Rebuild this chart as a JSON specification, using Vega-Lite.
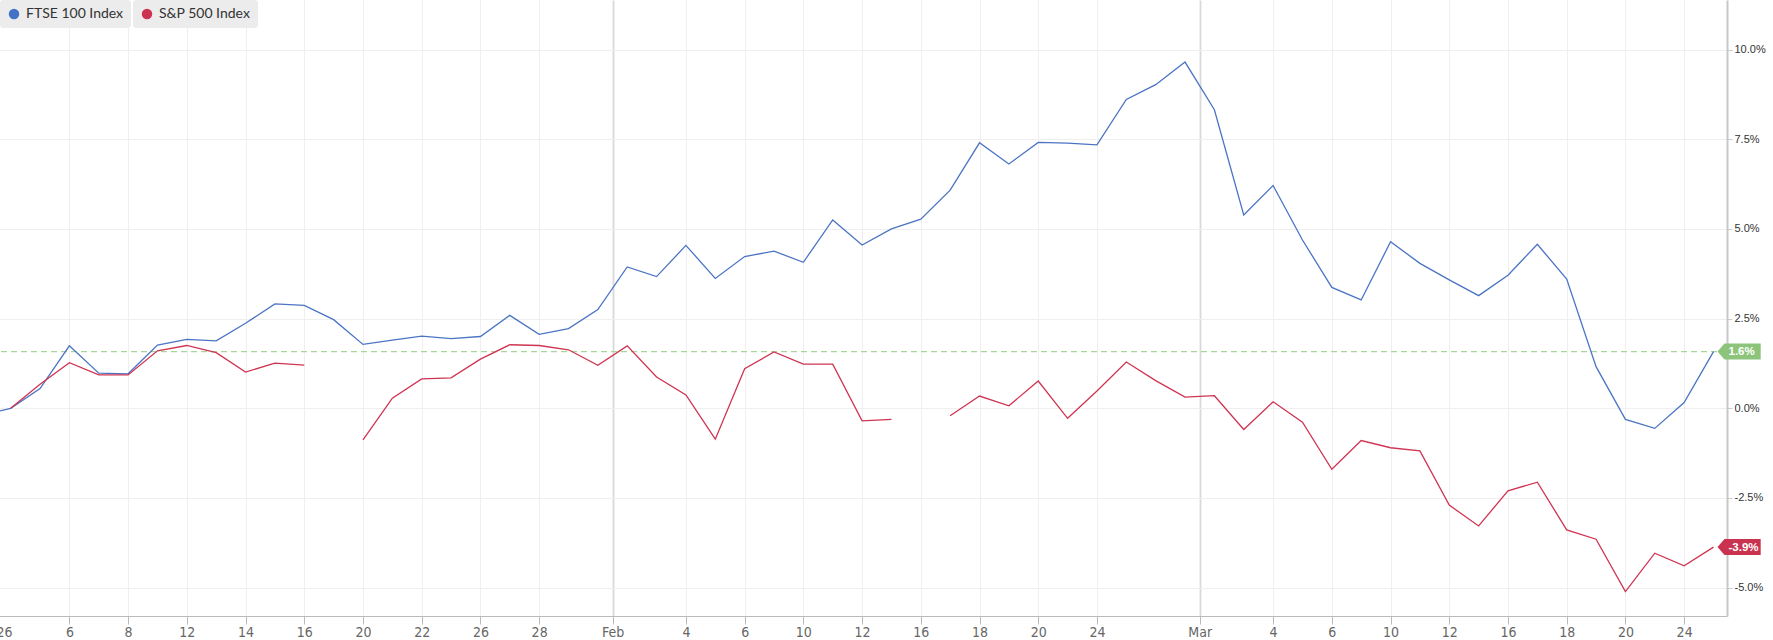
{
  "$schema": "https://vega.github.io/schema/vega-lite/v6.json",
  "width": 1731,
  "height": 616,
  "autosize": {"type": "none"},
  "padding": {"left": -4, "top": 0, "right": 46, "bottom": 24},
  "background": "white",
  "config": {"view": {"stroke": null}, "font": "Liberation Sans"},
  "data": {"values": [
    {"d":"2025-12-31","i":-1,"s":"FTSE 100 Index","v":-0.20,"run":1},
    {"d":"2026-01-02","i":0,"s":"FTSE 100 Index","v":0.00,"run":1},
    {"d":"2026-01-05","i":1,"s":"FTSE 100 Index","v":0.55,"run":1},
    {"d":"2026-01-06","i":2,"s":"FTSE 100 Index","v":1.74,"run":1},
    {"d":"2026-01-07","i":3,"s":"FTSE 100 Index","v":0.98,"run":1},
    {"d":"2026-01-08","i":4,"s":"FTSE 100 Index","v":0.96,"run":1},
    {"d":"2026-01-09","i":5,"s":"FTSE 100 Index","v":1.76,"run":1},
    {"d":"2026-01-12","i":6,"s":"FTSE 100 Index","v":1.92,"run":1},
    {"d":"2026-01-13","i":7,"s":"FTSE 100 Index","v":1.88,"run":1},
    {"d":"2026-01-14","i":8,"s":"FTSE 100 Index","v":2.37,"run":1},
    {"d":"2026-01-15","i":9,"s":"FTSE 100 Index","v":2.91,"run":1},
    {"d":"2026-01-16","i":10,"s":"FTSE 100 Index","v":2.87,"run":1},
    {"d":"2026-01-19","i":11,"s":"FTSE 100 Index","v":2.47,"run":1},
    {"d":"2026-01-20","i":12,"s":"FTSE 100 Index","v":1.78,"run":1},
    {"d":"2026-01-21","i":13,"s":"FTSE 100 Index","v":1.90,"run":1},
    {"d":"2026-01-22","i":14,"s":"FTSE 100 Index","v":2.01,"run":1},
    {"d":"2026-01-23","i":15,"s":"FTSE 100 Index","v":1.94,"run":1},
    {"d":"2026-01-26","i":16,"s":"FTSE 100 Index","v":2.00,"run":1},
    {"d":"2026-01-27","i":17,"s":"FTSE 100 Index","v":2.59,"run":1},
    {"d":"2026-01-28","i":18,"s":"FTSE 100 Index","v":2.06,"run":1},
    {"d":"2026-01-29","i":19,"s":"FTSE 100 Index","v":2.22,"run":1},
    {"d":"2026-01-30","i":20,"s":"FTSE 100 Index","v":2.75,"run":1},
    {"d":"2026-02-02","i":21,"s":"FTSE 100 Index","v":3.94,"run":1},
    {"d":"2026-02-03","i":22,"s":"FTSE 100 Index","v":3.67,"run":1},
    {"d":"2026-02-04","i":23,"s":"FTSE 100 Index","v":4.54,"run":1},
    {"d":"2026-02-05","i":24,"s":"FTSE 100 Index","v":3.62,"run":1},
    {"d":"2026-02-06","i":25,"s":"FTSE 100 Index","v":4.23,"run":1},
    {"d":"2026-02-09","i":26,"s":"FTSE 100 Index","v":4.38,"run":1},
    {"d":"2026-02-10","i":27,"s":"FTSE 100 Index","v":4.07,"run":1},
    {"d":"2026-02-11","i":28,"s":"FTSE 100 Index","v":5.25,"run":1},
    {"d":"2026-02-12","i":29,"s":"FTSE 100 Index","v":4.55,"run":1},
    {"d":"2026-02-13","i":30,"s":"FTSE 100 Index","v":5.00,"run":1},
    {"d":"2026-02-16","i":31,"s":"FTSE 100 Index","v":5.27,"run":1},
    {"d":"2026-02-17","i":32,"s":"FTSE 100 Index","v":6.08,"run":1},
    {"d":"2026-02-18","i":33,"s":"FTSE 100 Index","v":7.40,"run":1},
    {"d":"2026-02-19","i":34,"s":"FTSE 100 Index","v":6.81,"run":1},
    {"d":"2026-02-20","i":35,"s":"FTSE 100 Index","v":7.41,"run":1},
    {"d":"2026-02-23","i":36,"s":"FTSE 100 Index","v":7.39,"run":1},
    {"d":"2026-02-24","i":37,"s":"FTSE 100 Index","v":7.34,"run":1},
    {"d":"2026-02-25","i":38,"s":"FTSE 100 Index","v":8.61,"run":1},
    {"d":"2026-02-26","i":39,"s":"FTSE 100 Index","v":9.02,"run":1},
    {"d":"2026-02-27","i":40,"s":"FTSE 100 Index","v":9.65,"run":1},
    {"d":"2026-03-02","i":41,"s":"FTSE 100 Index","v":8.32,"run":1},
    {"d":"2026-03-03","i":42,"s":"FTSE 100 Index","v":5.39,"run":1},
    {"d":"2026-03-04","i":43,"s":"FTSE 100 Index","v":6.21,"run":1},
    {"d":"2026-03-05","i":44,"s":"FTSE 100 Index","v":4.69,"run":1},
    {"d":"2026-03-06","i":45,"s":"FTSE 100 Index","v":3.37,"run":1},
    {"d":"2026-03-09","i":46,"s":"FTSE 100 Index","v":3.02,"run":1},
    {"d":"2026-03-10","i":47,"s":"FTSE 100 Index","v":4.64,"run":1},
    {"d":"2026-03-11","i":48,"s":"FTSE 100 Index","v":4.04,"run":1},
    {"d":"2026-03-12","i":49,"s":"FTSE 100 Index","v":3.58,"run":1},
    {"d":"2026-03-13","i":50,"s":"FTSE 100 Index","v":3.14,"run":1},
    {"d":"2026-03-16","i":51,"s":"FTSE 100 Index","v":3.71,"run":1},
    {"d":"2026-03-17","i":52,"s":"FTSE 100 Index","v":4.57,"run":1},
    {"d":"2026-03-18","i":53,"s":"FTSE 100 Index","v":3.60,"run":1},
    {"d":"2026-03-19","i":54,"s":"FTSE 100 Index","v":1.16,"run":1},
    {"d":"2026-03-20","i":55,"s":"FTSE 100 Index","v":-0.31,"run":1},
    {"d":"2026-03-23","i":56,"s":"FTSE 100 Index","v":-0.56,"run":1},
    {"d":"2026-03-24","i":57,"s":"FTSE 100 Index","v":0.16,"run":1},
    {"d":"2026-03-25","i":58,"s":"FTSE 100 Index","v":1.58,"run":1},
    {"d":"2026-01-02","i":0,"s":"S&P 500 Index","v":0.00,"run":1},
    {"d":"2026-01-05","i":1,"s":"S&P 500 Index","v":0.67,"run":1},
    {"d":"2026-01-06","i":2,"s":"S&P 500 Index","v":1.27,"run":1},
    {"d":"2026-01-07","i":3,"s":"S&P 500 Index","v":0.93,"run":1},
    {"d":"2026-01-08","i":4,"s":"S&P 500 Index","v":0.93,"run":1},
    {"d":"2026-01-09","i":5,"s":"S&P 500 Index","v":1.60,"run":1},
    {"d":"2026-01-12","i":6,"s":"S&P 500 Index","v":1.75,"run":1},
    {"d":"2026-01-13","i":7,"s":"S&P 500 Index","v":1.55,"run":1},
    {"d":"2026-01-14","i":8,"s":"S&P 500 Index","v":1.01,"run":1},
    {"d":"2026-01-15","i":9,"s":"S&P 500 Index","v":1.26,"run":1},
    {"d":"2026-01-16","i":10,"s":"S&P 500 Index","v":1.20,"run":1},
    {"d":"2026-01-20","i":12,"s":"S&P 500 Index","v":-0.88,"run":2},
    {"d":"2026-01-21","i":13,"s":"S&P 500 Index","v":0.28,"run":2},
    {"d":"2026-01-22","i":14,"s":"S&P 500 Index","v":0.82,"run":2},
    {"d":"2026-01-23","i":15,"s":"S&P 500 Index","v":0.85,"run":2},
    {"d":"2026-01-26","i":16,"s":"S&P 500 Index","v":1.37,"run":2},
    {"d":"2026-01-27","i":17,"s":"S&P 500 Index","v":1.77,"run":2},
    {"d":"2026-01-28","i":18,"s":"S&P 500 Index","v":1.75,"run":2},
    {"d":"2026-01-29","i":19,"s":"S&P 500 Index","v":1.63,"run":2},
    {"d":"2026-01-30","i":20,"s":"S&P 500 Index","v":1.20,"run":2},
    {"d":"2026-02-02","i":21,"s":"S&P 500 Index","v":1.74,"run":2},
    {"d":"2026-02-03","i":22,"s":"S&P 500 Index","v":0.87,"run":2},
    {"d":"2026-02-04","i":23,"s":"S&P 500 Index","v":0.37,"run":2},
    {"d":"2026-02-05","i":24,"s":"S&P 500 Index","v":-0.86,"run":2},
    {"d":"2026-02-06","i":25,"s":"S&P 500 Index","v":1.10,"run":2},
    {"d":"2026-02-09","i":26,"s":"S&P 500 Index","v":1.57,"run":2},
    {"d":"2026-02-10","i":27,"s":"S&P 500 Index","v":1.23,"run":2},
    {"d":"2026-02-11","i":28,"s":"S&P 500 Index","v":1.23,"run":2},
    {"d":"2026-02-12","i":29,"s":"S&P 500 Index","v":-0.35,"run":2},
    {"d":"2026-02-13","i":30,"s":"S&P 500 Index","v":-0.31,"run":2},
    {"d":"2026-02-17","i":32,"s":"S&P 500 Index","v":-0.21,"run":3},
    {"d":"2026-02-18","i":33,"s":"S&P 500 Index","v":0.34,"run":3},
    {"d":"2026-02-19","i":34,"s":"S&P 500 Index","v":0.07,"run":3},
    {"d":"2026-02-20","i":35,"s":"S&P 500 Index","v":0.76,"run":3},
    {"d":"2026-02-23","i":36,"s":"S&P 500 Index","v":-0.28,"run":3},
    {"d":"2026-02-24","i":37,"s":"S&P 500 Index","v":0.48,"run":3},
    {"d":"2026-02-25","i":38,"s":"S&P 500 Index","v":1.29,"run":3},
    {"d":"2026-02-26","i":39,"s":"S&P 500 Index","v":0.77,"run":3},
    {"d":"2026-02-27","i":40,"s":"S&P 500 Index","v":0.31,"run":3},
    {"d":"2026-03-02","i":41,"s":"S&P 500 Index","v":0.35,"run":3},
    {"d":"2026-03-03","i":42,"s":"S&P 500 Index","v":-0.59,"run":3},
    {"d":"2026-03-04","i":43,"s":"S&P 500 Index","v":0.18,"run":3},
    {"d":"2026-03-05","i":44,"s":"S&P 500 Index","v":-0.39,"run":3},
    {"d":"2026-03-06","i":45,"s":"S&P 500 Index","v":-1.70,"run":3},
    {"d":"2026-03-09","i":46,"s":"S&P 500 Index","v":-0.90,"run":3},
    {"d":"2026-03-10","i":47,"s":"S&P 500 Index","v":-1.10,"run":3},
    {"d":"2026-03-11","i":48,"s":"S&P 500 Index","v":-1.19,"run":3},
    {"d":"2026-03-12","i":49,"s":"S&P 500 Index","v":-2.70,"run":3},
    {"d":"2026-03-13","i":50,"s":"S&P 500 Index","v":-3.28,"run":3},
    {"d":"2026-03-16","i":51,"s":"S&P 500 Index","v":-2.30,"run":3},
    {"d":"2026-03-17","i":52,"s":"S&P 500 Index","v":-2.06,"run":3},
    {"d":"2026-03-18","i":53,"s":"S&P 500 Index","v":-3.39,"run":3},
    {"d":"2026-03-19","i":54,"s":"S&P 500 Index","v":-3.65,"run":3},
    {"d":"2026-03-20","i":55,"s":"S&P 500 Index","v":-5.11,"run":3},
    {"d":"2026-03-23","i":56,"s":"S&P 500 Index","v":-4.04,"run":3},
    {"d":"2026-03-24","i":57,"s":"S&P 500 Index","v":-4.39,"run":3},
    {"d":"2026-03-25","i":58,"s":"S&P 500 Index","v":-3.87,"run":3}
  ]},
  "encoding": {
    "y": {
      "field": "v", "type": "quantitative",
      "scale": {"domain": [-5.79, 11.38], "nice": false, "zero": false},
      "axis": {
        "orient": "right", "title": null,
        "values": [-5, -2.5, 0, 2.5, 5, 7.5, 10],
        "labelExpr": "(datum.value < 0 ? '-' : '') + format(abs(datum.value), '.1f') + '%'",
        "labelFont": "Liberation Sans", "labelFontSize": 11, "labelColor": "#333333",
        "labelPadding": 2, "tickSize": 5, "tickColor": "#cccccc",
        "domainColor": "#c8c8c8", "domainWidth": 2,
        "grid": true, "gridColor": "#efefef", "gridWidth": 1,
        "labelOverlap": false
      }
    }
  },
  "layer": [
    {
      "transform": [{"filter": "datum.s === 'FTSE 100 Index' && datum.i === 58"}],
      "mark": {"type": "rule", "color": "#a8d59a", "strokeWidth": 1.2, "strokeDash": [6, 4]},
      "encoding": {"y": {"field": "v", "type": "quantitative"}}
    },
    {
      "transform": [{"filter": "datum.s === 'FTSE 100 Index'"}],
      "mark": {"type": "line", "strokeWidth": 1.3, "clip": true},
      "encoding": {
        "x": {
          "field": "i", "type": "quantitative",
          "scale": {"domain": [-0.5, 58.46], "nice": false, "zero": false},
          "axis": {
            "title": null,
            "values": [-0.5, 2, 4, 6, 8, 10, 12, 14, 16, 18, 20.5, 23, 25, 27, 29, 31, 33, 35, 37, 40.5, 43, 45, 47, 49, 51, 53, 55, 57],
            "labelExpr": "['2026','6','8','12','14','16','20','22','26','28','Feb','4','6','10','12','16','18','20','24','Mar','4','6','10','12','16','18','20','24'][indexof([-0.5,2,4,6,8,10,12,14,16,18,20.5,23,25,27,29,31,33,35,37,40.5,43,45,47,49,51,53,55,57], datum.value)]",
            "labelFont": "Liberation Sans Narrow, DejaVu Sans Condensed, Liberation Sans", "labelFontSize": 14, "labelColor": "#666666",
            "labelPadding": 1, "labelFlush": false, "labelOverlap": false,
            "tickSize": 8, "tickColor": "#bbbbbb",
            "domainColor": "#bbbbbb", "domainWidth": 1,
            "grid": true,
            "gridColor": {"condition": {"test": "datum.value === 20.5 || datum.value === 40.5", "value": "#d9d9d9"}, "value": "#efefef"},
            "gridWidth": {"condition": {"test": "datum.value === 20.5 || datum.value === 40.5", "value": 1.8}, "value": 1}
          }
        },
        "y": {"field": "v", "type": "quantitative"},
        "color": {
          "field": "s", "type": "nominal",
          "scale": {"domain": ["FTSE 100 Index"], "range": ["#4b74c4"]},
          "legend": {
            "title": null, "orient": "none", "legendX": 4, "legendY": 0,
            "fillColor": "#ececec", "cornerRadius": 3, "padding": 7,
            "symbolType": "circle", "symbolSize": 110, "labelOffset": 5,
            "symbolFillColor": "#4472c4", "symbolStrokeWidth": 0,
            "labelFont": "Lato", "labelFontSize": 14, "labelColor": "#333333"
          }
        }
      }
    },
    {
      "transform": [{"filter": "datum.s === 'S&P 500 Index'"}],
      "mark": {"type": "line", "strokeWidth": 1.3, "clip": true},
      "encoding": {
        "x": {"field": "i", "type": "quantitative"},
        "y": {"field": "v", "type": "quantitative"},
        "detail": {"field": "run", "type": "nominal"},
        "stroke": {
          "field": "s", "type": "nominal",
          "scale": {"domain": ["S&P 500 Index"], "range": ["#cf3451"]},
          "legend": {
            "title": null, "orient": "none", "legendX": 137, "legendY": 0,
            "fillColor": "#ececec", "cornerRadius": 3, "padding": 7,
            "symbolType": "circle", "symbolSize": 110, "labelOffset": 5,
            "symbolFillColor": "#cc3350", "symbolStrokeWidth": 0,
            "labelFont": "Lato", "labelFontSize": 14, "labelColor": "#333333"
          }
        }
      }
    },
    {
      "transform": [{"filter": "datum.i === 58"}],
      "mark": {"type": "point", "shape": "M1,0L2.75,-2L11.8,-2L11.8,2L2.75,2Z", "filled": true, "size": 64, "opacity": 1, "strokeWidth": 0},
      "encoding": {
        "x": {"field": "i", "type": "quantitative"},
        "y": {"field": "v", "type": "quantitative"},
        "color": {"condition": {"test": "datum.v > 0", "value": "#8cc47c"}, "value": "#c9334f"}
      }
    },
    {
      "transform": [
        {"filter": "datum.i === 58"},
        {"calculate": "(datum.v < 0 ? '-' : '') + format(abs(datum.v), '.1f') + '%'", "as": "tag"}
      ],
      "mark": {"type": "text", "align": "left", "baseline": "middle", "dx": 15, "dy": 0.5, "font": "Liberation Sans", "fontSize": 11.5, "fontWeight": "bold", "color": "white"},
      "encoding": {
        "x": {"field": "i", "type": "quantitative"},
        "y": {"field": "v", "type": "quantitative"},
        "text": {"field": "tag", "type": "nominal"}
      }
    }
  ]
}
